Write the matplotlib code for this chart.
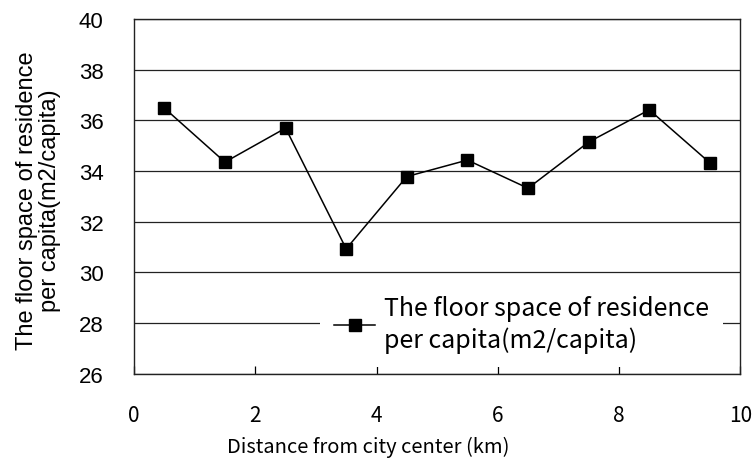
import matplotlib
matplotlib.use("Agg")
import matplotlib.pyplot as plt
import numpy as np

# data
distance = [0.5, 1.5, 2.5, 3.5, 4.5, 5.5, 6.5, 7.5, 8.5, 9.5]
floor_space = [36.48, 34.35, 35.69, 30.93, 33.78, 34.43, 33.32, 35.14, 36.41, 34.32]
x_ticks = [0, 2, 4, 6, 8, 10]
y_ticks = [26, 28, 30, 32, 34, 36, 38, 40]
series_label = "The floor space of residence\nper capita(m2/capita)"

jp = ["Noto Sans CJK JP", "DejaVu Sans"]
latin = ["Liberation Sans", "DejaVu Sans"]

fig = plt.figure(figsize=(7.53, 4.6), dpi=100)
ax = fig.add_axes([0.178, 0.185, 0.805, 0.772])

ax.plot(distance, floor_space, color="black", linewidth=1.1, marker="s",
        markersize=9, markerfacecolor="black", markeredgecolor="black",
        label=series_label, zorder=3)

ax.set_xlim(0, 10)
ax.set_ylim(26, 40)
ax.set_xticks(x_ticks)
ax.set_yticks(y_ticks)
ax.yaxis.grid(True, color="#222222", linewidth=0.9)
ax.set_axisbelow(True)

for s in ax.spines.values():
    s.set_color("#222222")
    s.set_linewidth(1.0)

ax.tick_params(axis="x", direction="in", length=6, width=0.9, pad=22)
ax.tick_params(axis="y", length=0, pad=22)
for t in ax.get_xticklabels():
    t.set_family(jp)
    t.set_fontsize(15)
for t in ax.get_yticklabels():
    t.set_family(latin)
    t.set_fontsize(16)

ax.set_xlabel("Distance from city center (km)", family=jp, fontsize=14.5)
ax.xaxis.set_label_coords(0.386, -0.175)
ax.set_ylabel(series_label, family=latin, fontsize=17, linespacing=1.05)
ax.yaxis.set_label_coords(-0.12, 0.49)

leg = ax.legend(loc="upper left", bbox_to_anchor=(0.307, 0.262),
                prop={"family": jp, "size": 18}, frameon=True, fancybox=False,
                framealpha=1, edgecolor="none", facecolor="white",
                handlelength=1.65, handletextpad=0.35, borderpad=0.55,
                borderaxespad=0, labelspacing=0.2, markerscale=0.95)
for t in leg.get_texts():
    t.set_linespacing(1.3)

fig.savefig("out.png", dpi=100)
